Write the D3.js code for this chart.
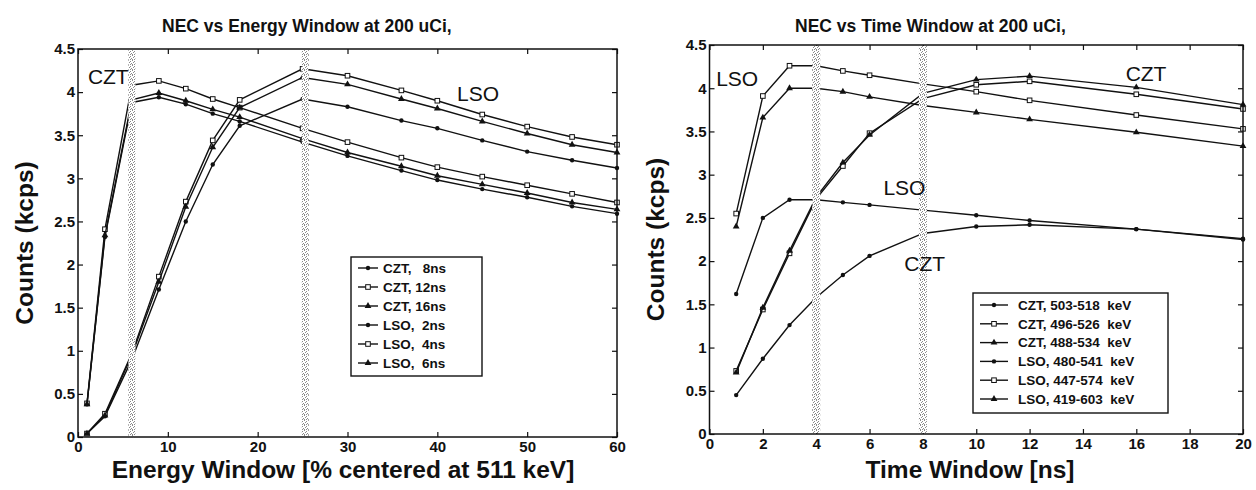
<!DOCTYPE html>
<html>
<head>
<meta charset="utf-8">
<script src="https://cdn.jsdelivr.net/npm/d3@7"></script>
<style>
  body { margin: 0; background: #fff; }
  text { font-family: "Liberation Sans", Arial, sans-serif; }
  .tick text { font-weight: bold; font-size: 15px; fill: #111; }
  .axis-title { font-weight: bold; font-size: 24.5px; fill: #111; }
  .plot-title { font-weight: bold; font-size: 17.5px; fill: #111; }
  .inline-label { font-size: 21px; fill: #111; }
  .legend-text { font-weight: bold; font-size: 13.5px; fill: #111; white-space: pre; }
</style>
</head>
<body>
<div id="chart"></div>
<script>
// ---------------------------//
//          DATA              //
// ---------------------------//

// Left panel: energy window (% centered at 511 keV)
const energyWindow = [1, 3, 6, 9, 12, 15, 18, 25, 30, 36, 40, 45, 50, 55, 60];
const czt8ns  = [0.38, 2.32, 3.88, 3.94, 3.86, 3.75, 3.66, 3.42, 3.26, 3.09, 2.98, 2.875, 2.78, 2.675, 2.59];
const czt12ns = [0.39, 2.41, 4.08, 4.13, 4.04, 3.92, 3.82, 3.58, 3.42, 3.24, 3.13, 3.02, 2.92, 2.82, 2.72];
const czt16ns = [0.38, 2.34, 3.91, 3.99, 3.90, 3.80, 3.71, 3.46, 3.30, 3.14, 3.03, 2.93, 2.83, 2.72, 2.64];
const lso2ns  = [0.04, 0.24, 0.90, 1.71, 2.50, 3.16, 3.61, 3.92, 3.83, 3.67, 3.58, 3.44, 3.31, 3.21, 3.12];
const lso4ns  = [0.04, 0.27, 0.97, 1.86, 2.73, 3.44, 3.91, 4.27, 4.19, 4.02, 3.90, 3.74, 3.60, 3.48, 3.39];
const lso6ns  = [0.04, 0.25, 0.95, 1.80, 2.67, 3.36, 3.82, 4.17, 4.09, 3.92, 3.81, 3.66, 3.52, 3.39, 3.30];
const energyLegend = ["CZT,   8ns", "CZT, 12ns", "CZT, 16ns", "LSO,  2ns", "LSO,  4ns", "LSO,  6ns"];
const energyBands = [6, 25.3];

// Right panel: time window (ns)
const timeWindow = [1, 2, 3, 4, 5, 6, 8, 10, 12, 16, 20];
const czt503 = [0.45, 0.87, 1.26, 1.58, 1.84, 2.06, 2.32, 2.40, 2.42, 2.37, 2.26];
const czt496 = [0.73, 1.44, 2.09, 2.72, 3.10, 3.48, 3.88, 4.04, 4.08, 3.93, 3.76];
const czt488 = [0.71, 1.46, 2.12, 2.74, 3.14, 3.46, 3.94, 4.10, 4.14, 4.01, 3.81];
const lso480 = [1.62, 2.50, 2.71, 2.71, 2.68, 2.65, 2.59, 2.53, 2.47, 2.37, 2.25];
const lso447 = [2.55, 3.91, 4.26, 4.26, 4.20, 4.15, 4.05, 3.96, 3.86, 3.69, 3.53];
const lso419 = [2.40, 3.66, 4.00, 4.00, 3.96, 3.90, 3.80, 3.72, 3.64, 3.49, 3.33];
const timeLegend = ["CZT, 503-518  keV", "CZT, 496-526  keV", "CZT, 488-534  keV",
                    "LSO, 480-541  keV", "LSO, 447-574  keV", "LSO, 419-603  keV"];
const timeBands = [4, 8];

// marker for each series, same order in both panels
const markers = ["dot", "square", "triangle", "dot", "square", "triangle"];

const countTicks = [0, 0.5, 1, 1.5, 2, 2.5, 3, 3.5, 4, 4.5];
const energyTicks = [0, 10, 20, 30, 40, 50, 60];
const timeTicks = [0, 2, 4, 6, 8, 10, 12, 14, 16, 18, 20];

// ---------------------------//
//       SET  CANVAS          //
// ---------------------------//
const W = 1256, H = 490;
const svg = d3.select("#chart")
    .append("svg")
    .attr("width", W)
    .attr("height", H)
    .style("background", "#fff");

// stippled grey pattern for the vertical bands
const defs = svg.append("defs");
const pat = defs.append("pattern")
    .attr("id", "stipple")
    .attr("patternUnits", "userSpaceOnUse")
    .attr("width", 4).attr("height", 5);
pat.append("rect").attr("width", 4).attr("height", 5).attr("fill", "#fff");
[[0, 0], [2, 1], [1, 2], [3, 3], [0, 4], [2, 4]].forEach(p => {
    pat.append("rect").attr("x", p[0]).attr("y", p[1])
        .attr("width", 1).attr("height", 1).attr("fill", "#8a8a8a");
});

function drawMarker(g, type, cx, cy) {
    if (type === "dot") {
        g.append("circle").attr("cx", cx).attr("cy", cy).attr("r", 2.2)
            .attr("fill", "#111");
    } else if (type === "square") {
        g.append("rect").attr("x", cx - 2.3).attr("y", cy - 2.3)
            .attr("width", 4.6).attr("height", 4.6)
            .attr("fill", "#fff").attr("stroke", "#111").attr("stroke-width", 1);
    } else {
        g.append("path")
            .attr("transform", `translate(${cx},${cy})`)
            .attr("d", d3.symbol(d3.symbolTriangle, 20)())
            .attr("fill", "#111");
    }
}

// ---------------------------//
//       PANEL FUNCTION       //
// ---------------------------//
function drawPanel(p) {
    const x = d3.scaleLinear().domain(p.xDomain).range([p.left, p.right]);
    const y = d3.scaleLinear().domain([0, 4.5]).range([p.bottom, p.top]);
    const g = svg.append("g");

    // axes with inward ticks on all four sides
    g.append("g")
        .attr("transform", `translate(0,${p.bottom})`)
        .call(d3.axisBottom(x).tickValues(p.xTicks).tickSizeInner(-5).tickSizeOuter(0).tickPadding(4))
        .call(a => a.select(".domain").remove());
    g.append("g")
        .attr("transform", `translate(0,${p.top})`)
        .call(d3.axisTop(x).tickValues(p.xTicks).tickSizeInner(-5).tickSizeOuter(0).tickFormat(""))
        .call(a => a.select(".domain").remove());
    g.append("g")
        .attr("transform", `translate(${p.left},0)`)
        .call(d3.axisLeft(y).tickValues(countTicks).tickSizeInner(-5).tickSizeOuter(0)
            .tickPadding(3).tickFormat(d3.format("~g")))
        .call(a => a.select(".domain").remove());
    g.append("g")
        .attr("transform", `translate(${p.right},0)`)
        .call(d3.axisRight(y).tickValues(countTicks).tickSizeInner(-5).tickSizeOuter(0).tickFormat(""))
        .call(a => a.select(".domain").remove());
    g.selectAll(".tick line").attr("stroke", "#111").attr("stroke-width", 1.2);

    // series lines and markers
    const line = d3.line()
        .x((d, i) => x(p.xs[i]))
        .y(d => y(d));
    p.series.forEach((s, k) => {
        g.append("path")
            .attr("d", line(s))
            .attr("fill", "none")
            .attr("stroke", "#111")
            .attr("stroke-width", 1.4);
        s.forEach((v, i) => drawMarker(g, markers[k], x(p.xs[i]), y(v)));
    });

    // stippled vertical bands drawn over the lines
    p.bands.forEach(b => {
        g.append("rect")
            .attr("x", x(b) - p.bandW / 2)
            .attr("y", p.top + 1)
            .attr("width", p.bandW)
            .attr("height", p.bottom - p.top - 2)
            .attr("fill", "url(#stipple)");
    });

    // plot box
    g.append("rect")
        .attr("x", p.left).attr("y", p.top)
        .attr("width", p.right - p.left).attr("height", p.bottom - p.top)
        .attr("fill", "none").attr("stroke", "#111").attr("stroke-width", 1.5);

    // inline labels
    p.labels.forEach(l => {
        g.append("text")
            .attr("class", "inline-label")
            .attr("x", x(l.x)).attr("y", y(l.y))
            .text(l.text);
    });

    // legend
    const lg = g.append("g");
    lg.append("rect")
        .attr("x", p.legend.x).attr("y", p.legend.y)
        .attr("width", p.legend.w).attr("height", p.legend.h)
        .attr("fill", "#fff").attr("stroke", "#111").attr("stroke-width", 1.4);
    p.legendText.forEach((t, k) => {
        const ry = p.legend.y + p.legend.row0 + k * p.legend.step;
        lg.append("line")
            .attr("x1", p.legend.x + 7).attr("x2", p.legend.x + p.legend.lineW)
            .attr("y1", ry).attr("y2", ry)
            .attr("stroke", "#111").attr("stroke-width", 1.4);
        drawMarker(lg, markers[k], p.legend.x + 7 + (p.legend.lineW - 7) / 2, ry);
        lg.append("text")
            .attr("class", "legend-text")
            .attr("x", p.legend.x + p.legend.textX)
            .attr("y", ry + 4.7)
            .text(t);
    });

    // titles
    g.append("text")
        .attr("class", "plot-title")
        .attr("x", p.titleX).attr("y", 32)
        .text(p.title);
    g.append("text")
        .attr("class", "axis-title")
        .attr("text-anchor", "middle")
        .attr("x", p.xTitleX).attr("y", 478)
        .text(p.xTitle);
    g.append("text")
        .attr("class", "axis-title")
        .attr("text-anchor", "middle")
        .attr("transform", `translate(${p.yTitleX},${(p.top + p.bottom) / 2}) rotate(-90)`)
        .text("Counts (kcps)");
}

// ---------------------------//
//       BOTH PANELS          //
// ---------------------------//
drawPanel({
    left: 78, right: 617, top: 49, bottom: 437,
    xDomain: [0, 60], xTicks: energyTicks, xs: energyWindow,
    series: [czt8ns, czt12ns, czt16ns, lso2ns, lso4ns, lso6ns],
    bands: energyBands, bandW: 7,
    labels: [{text: "CZT", x: 1.1, y: 4.09}, {text: "LSO", x: 42.2, y: 3.9}],
    legend: {x: 351, y: 257, w: 131, h: 119, row0: 11, step: 19, lineW: 27, textX: 32},
    legendText: energyLegend,
    title: "NEC vs Energy Window at 200 uCi,", titleX: 162,
    xTitle: "Energy Window [% centered at 511 keV]", xTitleX: 343,
    yTitleX: 33
});

drawPanel({
    left: 709.5, right: 1243, top: 45, bottom: 434,
    xDomain: [0, 20], xTicks: timeTicks, xs: timeWindow,
    series: [czt503, czt496, czt488, lso480, lso447, lso419],
    bands: timeBands, bandW: 8,
    labels: [{text: "LSO", x: 0.25, y: 4.03}, {text: "CZT", x: 15.6, y: 4.08},
             {text: "LSO", x: 6.52, y: 2.76}, {text: "CZT", x: 7.3, y: 1.88}],
    legend: {x: 973, y: 293, w: 195, h: 120, row0: 12, step: 18.8, lineW: 35, textX: 45},
    legendText: timeLegend,
    title: "NEC vs Time Window at 200 uCi,", titleX: 795,
    xTitle: "Time Window [ns]", xTitleX: 970,
    yTitleX: 664
});
</script>
</body>
</html>
